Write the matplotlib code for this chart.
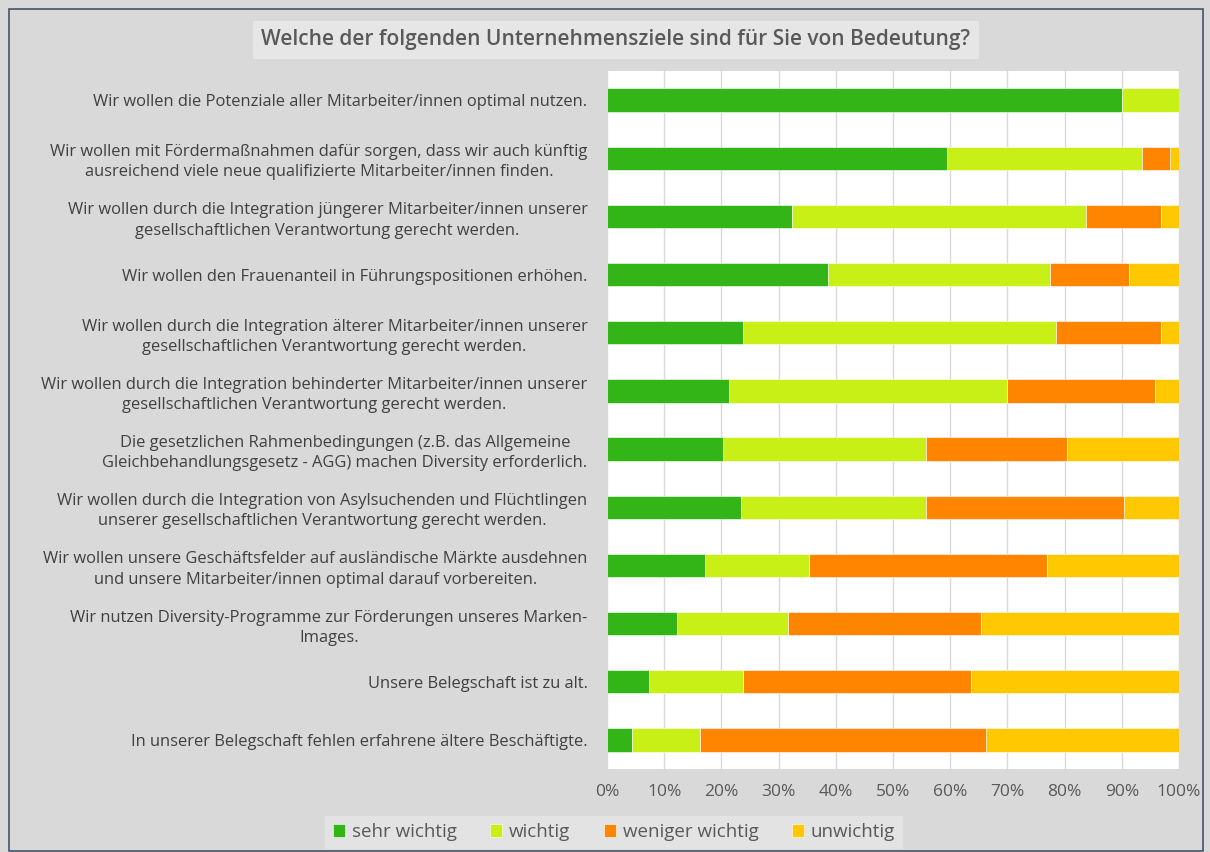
import matplotlib.pyplot as plt
from matplotlib.patches import Rectangle
import numpy as np

plt.rcParams['font.family'] = ['Open Sans', 'DejaVu Sans']

categories = [
    'Wir wollen die Potenziale aller Mitarbeiter/innen optimal nutzen.',
    'Wir wollen mit Fördermaßnahmen dafür sorgen, dass wir auch künftig\nausreichend viele neue qualifizierte Mitarbeiter/innen finden.',
    'Wir wollen durch die Integration jüngerer Mitarbeiter/innen unserer\ngesellschaftlichen Verantwortung gerecht werden.',
    'Wir wollen den Frauenanteil in Führungspositionen erhöhen.',
    'Wir wollen durch die Integration älterer Mitarbeiter/innen unserer\ngesellschaftlichen Verantwortung gerecht werden.',
    'Wir wollen durch die Integration behinderter Mitarbeiter/innen unserer\ngesellschaftlichen Verantwortung gerecht werden.',
    'Die gesetzlichen Rahmenbedingungen (z.B. das Allgemeine\nGleichbehandlungsgesetz - AGG) machen Diversity erforderlich.',
    'Wir wollen durch die Integration von Asylsuchenden und Flüchtlingen\nunserer gesellschaftlichen Verantwortung gerecht werden.',
    'Wir wollen unsere Geschäftsfelder auf ausländische Märkte ausdehnen\nund unsere Mitarbeiter/innen optimal darauf vorbereiten.',
    'Wir nutzen Diversity-Programme zur Förderungen unseres Marken-\nImages.',
    'Unsere Belegschaft ist zu alt.',
    'In unserer Belegschaft fehlen erfahrene ältere Beschäftigte.',
]

sehr_wichtig = [90.0, 59.5, 32.4, 38.7, 23.7, 21.3, 20.2, 23.4, 17.1, 12.2, 7.3, 4.4]
wichtig = [10.0, 34.0, 51.3, 38.7, 54.8, 48.6, 35.6, 32.4, 18.2, 19.4, 16.5, 11.9]
weniger_wichtig = [0.0, 5.0, 13.2, 13.8, 18.4, 25.9, 24.6, 34.6, 41.6, 33.8, 39.8, 50.0]
unwichtig = [0.0, 1.5, 3.1, 8.8, 3.1, 4.2, 19.6, 9.6, 23.1, 34.6, 36.4, 33.7]

series_names = ['sehr wichtig', 'wichtig', 'weniger wichtig', 'unwichtig']
colors = ['#33b517', '#c8f016', '#ff8500', '#ffc800']

W, H = 1210, 852
fig = plt.figure(figsize=(W / 100, H / 100), dpi=100)
fig.patch.set_facecolor('#d9d9d9')

# outer border
fig.patches.append(Rectangle((9 / W, 1 - 851 / H), (1203 - 9) / W, (851 - 9) / H,
                             transform=fig.transFigure, fill=False,
                             edgecolor='#44546a', linewidth=1.2))

ax = fig.add_axes([607 / W, 1 - 769 / H, (1179 - 607) / W, (769 - 71) / H])
ax.set_facecolor('white')

y = np.arange(len(categories))
left = np.zeros(len(categories))
for name, vals, c in zip(series_names, [sehr_wichtig, wichtig, weniger_wichtig, unwichtig], colors):
    vals = np.array(vals)
    ax.barh(y, vals, left=left, height=0.4, color=c, label=name,
            edgecolor='white', linewidth=0.4, zorder=3)
    left += vals

ax.set_xlim(0, 100)
ax.set_ylim(len(categories) - 0.5, -0.5)
ax.set_xticks(np.arange(0, 101, 10))
ax.set_xticklabels([f'{v}%' for v in range(0, 101, 10)], fontsize=12.5, color='#595959')
ax.set_yticks(y)
ax.set_yticklabels(categories, fontsize=11.9, color='#404040', multialignment='center',
                   linespacing=1.35)
ax.tick_params(length=0, pad=14)
ax.tick_params(axis='x', pad=11)
ax.grid(axis='x', color='#d9d9d9', linewidth=1, zorder=0)
for s in ax.spines.values():
    s.set_visible(False)

fig.text(616 / W, 1 - 40 / H, 'Welche der folgenden Unternehmensziele sind für Sie von Bedeutung?',
         ha='center', va='center', fontsize=15, fontweight='semibold', color='#595959',
         bbox=dict(boxstyle='square,pad=0.4', facecolor='#e6e6e6', edgecolor='none'))

leg = fig.legend(loc='center', bbox_to_anchor=(614 / W, 1 - 832 / H), ncol=4,
                 fontsize=13.5, frameon=True, fancybox=False, handlelength=0.65,
                 handleheight=0.65, handletextpad=0.35, columnspacing=1.8,
                 borderpad=0.4)
leg.get_frame().set_facecolor('#e6e6e6')
leg.get_frame().set_edgecolor('none')
for t in leg.get_texts():
    t.set_color('#595959')

fig.savefig('out.png', dpi=100, facecolor=fig.get_facecolor())
